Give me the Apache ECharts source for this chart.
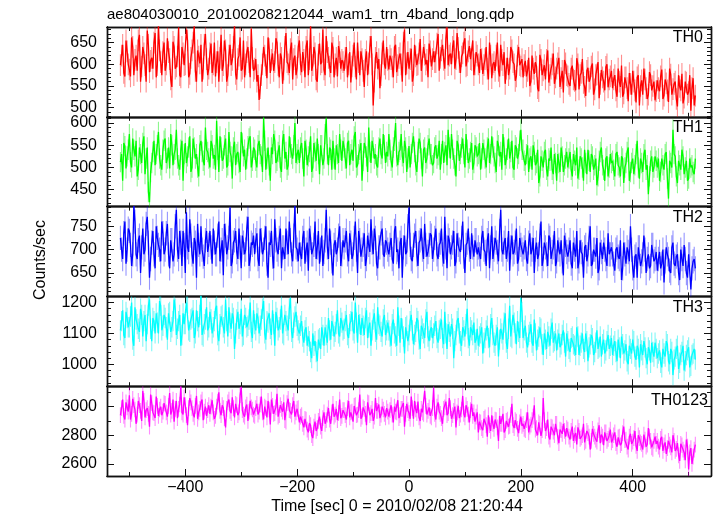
<!DOCTYPE html>
<html><head><meta charset="utf-8">
<script src="https://cdn.jsdelivr.net/npm/echarts@6/dist/echarts.min.js"></script>
<style>html,body{margin:0;padding:0;background:#fff}#c{width:717px;height:516px}</style>
</head><body><div id="c"></div>
<script>
// Light curve time grid: 2-s bins from -516 s (0 = 2010/02/08 21:20:44).
// Each band is stored as two lists: bins at -516,-512,... (A) and bins at -514,-510,... (B).
const tStart = -516, binSec = 2;

const th0A = [
598,645,572,630,588,662,575,620,655,560,640,598,678,582,615,650,570,690,605,628,
585,660,612,548,640,595,685,570,625,600,655,578,632,688,560,618,645,590,670,575,
625,580,650,605,560,668,598,632,575,645,610,690,565,620,585,655,600,640,570,615,
590,560,518,575,640,598,662,580,625,605,650,570,615,588,672,600,635,565,620,592,
655,582,610,640,575,690,598,625,560,648,605,588,665,615,580,638,600,572,628,610,
585,640,600,558,620,595,650,575,612,548,630,602,665,505,615,590,545,625,600,640,
588,612,570,645,598,625,560,680,602,590,636,575,618,600,658,585,622,610,648,595,
630,605,670,615,645,590,685,620,600,655,612,638,580,625,660,598,642,610,575,628,
600,635,578,612,590,650,568,605,620,585,645,598,555,615,590,632,600,572,640,595,
570,608,585,550,620,578,595,538,610,586,565,632,575,600,555,590,615,568,535,602,
572,550,597,562,614,542,580,557,527,592,567,602,542,577,522,587,560,594,547,572,
545,575,525,560,597,533,570,515,555,585,540,570,505,563,590,545,530,575,550,517,
563,538,588,528,556,513,576,543,560,503,548,578,523,558,536,493,568,528];
const th0B = [
620,580,655,600,572,640,610,585,668,595,625,560,645,608,590,672,598,632,575,650,
600,628,565,652,590,618,575,640,598,680,570,615,650,585,632,602,560,645,612,590,
648,600,572,630,615,585,655,560,620,598,640,578,612,662,590,570,628,605,682,585,
612,575,545,600,620,568,635,610,585,660,598,625,555,640,605,580,650,612,575,640,
600,628,570,655,612,585,640,565,622,600,680,575,628,595,650,570,615,642,590,605,
615,570,628,595,650,565,605,630,585,610,575,640,600,560,628,612,575,655,590,610,
620,595,640,582,615,600,650,575,628,612,560,645,598,625,585,640,600,570,630,612,
605,648,585,632,610,660,598,625,640,590,672,605,618,650,595,630,612,655,600,620,
580,612,598,640,565,620,600,585,650,572,610,628,590,575,640,605,562,620,598,612,
598,572,615,560,590,605,545,622,575,598,610,558,590,625,570,602,548,585,610,575,
555,590,565,540,600,575,612,548,585,560,595,530,575,605,555,570,540,600,565,585,
565,540,590,548,525,570,545,580,530,560,512,575,550,530,565,520,582,540,560,538,
545,572,520,565,540,590,530,555,520,575,540,510,560,530,575,545,505];

const th1A = [
512,470,548,525,575,500,540,560,495,530,555,485,545,422,510,560,530,580,505,540,
565,520,498,550,530,585,505,540,470,555,525,570,500,545,530,480,560,515,590,535,
500,550,528,605,490,545,520,565,505,535,475,558,530,510,580,525,495,548,570,515,
540,500,560,525,612,495,545,470,530,560,515,550,490,575,535,505,545,520,600,530,
510,555,480,540,525,570,500,535,565,485,550,520,610,505,540,560,495,530,575,515,
545,498,560,530,515,580,505,540,470,555,525,590,510,545,530,500,565,520,550,535,
575,515,545,600,505,540,525,560,490,548,530,570,505,535,555,480,545,520,565,530,
510,550,528,495,560,535,505,545,575,520,480,550,530,565,500,540,520,555,510,545,
530,495,555,520,545,510,570,525,490,550,535,575,505,540,520,560,495,545,530,585,
540,505,550,520,495,535,510,465,525,500,540,480,515,495,530,470,510,545,490,520,
500,535,480,515,545,495,520,470,510,540,490,525,505,460,515,545,495,520,480,530,
515,480,535,500,525,465,510,545,490,520,505,560,475,510,530,495,440,515,490,525,
500,470,520,495,535,430,510,585,525,465,505,540,485,515,475,500,490,520];
const th1B = [
530,555,498,540,512,565,525,480,545,510,570,520,445,490,535,505,550,520,495,560,
510,545,575,505,540,520,495,560,530,510,545,490,565,520,500,550,535,505,540,520,
560,520,495,540,570,515,550,500,580,525,545,505,535,490,555,540,520,565,500,545,
515,550,530,490,560,520,505,545,575,510,535,500,560,520,495,570,530,550,510,540,
545,520,560,505,535,490,555,515,530,550,505,575,530,545,495,520,550,510,540,560,
520,555,505,540,570,500,530,555,515,545,490,535,560,520,505,545,530,575,510,525,
540,500,560,525,535,575,510,545,520,500,555,535,490,565,520,540,510,550,530,505,
545,520,560,530,510,550,585,520,540,505,560,515,545,530,575,510,535,495,550,525,
555,520,540,500,565,530,545,510,560,525,495,545,520,565,535,500,550,520,560,540,
515,530,490,525,550,505,540,480,515,535,495,520,545,485,510,530,490,525,505,535,
520,495,530,505,475,525,500,540,485,515,530,495,520,480,535,505,470,525,500,510,
495,530,505,480,520,500,535,470,510,485,530,500,520,490,540,505,480,525,500,515,
520,490,505,530,475,515,500,530,480,515,495,525,500,470,520,505,485];

const th2A = [
725,680,760,700,740,665,795,690,720,650,745,700,770,640,715,690,750,710,675,735,
700,755,660,720,690,785,680,715,740,650,705,765,690,725,640,710,750,685,720,695,
740,670,715,690,760,700,645,730,705,790,675,720,695,745,660,715,700,770,680,710,
690,735,665,720,700,750,640,710,685,765,700,725,660,705,745,690,720,675,795,700,
715,680,740,700,655,725,690,760,705,670,730,695,785,680,715,645,720,700,750,690,
705,740,675,715,690,760,650,720,700,735,680,710,765,690,725,660,705,745,685,715,
690,725,670,750,700,715,640,730,695,790,680,710,740,665,720,700,755,685,710,730,
700,745,680,715,690,770,660,720,705,740,675,710,695,760,650,715,700,735,685,720,
705,680,740,695,720,660,750,700,715,675,785,690,725,700,655,730,695,745,680,710,
690,720,670,735,700,650,715,690,760,680,705,665,725,695,740,675,700,720,645,710,
685,720,660,700,740,675,695,640,710,690,750,670,700,725,660,695,715,680,735,690,
690,655,705,680,635,715,670,695,750,660,685,640,705,675,730,650,690,665,710,680,
655,695,670,630,705,680,650,715,665,690,635,680,710,650,690,615,675,660];
const th2B = [
700,735,670,745,710,690,760,680,730,705,690,755,715,680,740,660,725,700,760,690,
735,690,720,675,750,700,740,665,710,780,695,730,670,715,755,690,700,665,740,710,
705,745,690,730,675,720,755,690,725,665,715,740,680,705,730,690,745,665,715,730,
720,680,745,690,725,670,715,740,660,720,690,745,705,680,715,760,690,730,705,675,
690,725,670,715,745,690,710,680,740,700,665,720,705,745,675,710,690,730,665,720,
720,690,735,680,725,700,740,685,710,665,730,695,715,745,670,705,735,690,720,700,
710,680,740,695,660,725,705,690,750,710,675,730,690,715,745,680,710,695,735,680,
725,690,710,745,670,705,730,690,715,665,735,700,725,685,710,745,680,705,720,690,
690,725,700,665,735,705,680,725,695,740,700,715,680,740,705,690,715,670,725,700,
705,680,715,690,725,700,680,730,665,715,690,730,680,705,665,720,690,675,730,695,
700,670,715,685,660,720,690,705,675,725,665,700,685,650,715,680,700,665,690,705,
670,700,685,720,660,690,705,675,700,640,690,705,665,690,700,680,660,710,675,695,
680,660,700,675,690,655,705,670,685,650,700,665,680,640,690,660,680];

const th3A = [
1110,1175,1085,1150,1120,1200,1060,1145,1115,1180,1090,1160,1130,1210,1075,1140,1165,1100,1190,1125,
1150,1080,1170,1120,1210,1095,1140,1060,1165,1130,1195,1105,1150,1085,1175,1120,1225,1090,1145,1110,
1170,1100,1140,1190,1075,1155,1120,1210,1090,1135,1165,1050,1145,1115,1180,1095,1150,1125,1200,1085,
1130,1165,1100,1145,1205,1080,1135,1115,1175,1060,1150,1120,1190,1095,1140,1110,1215,1085,1155,1125,
1100,1140,1070,1120,1090,1040,1100,1075,1010,1085,1120,1060,1095,1150,1080,1125,1105,1175,1090,1135,
1115,1160,1085,1140,1110,1200,1070,1130,1150,1095,1175,1120,1060,1145,1105,1185,1125,1090,1160,1110,
1110,1060,1145,1090,1185,1070,1115,1035,1125,1095,1160,1065,1105,1140,1050,1115,1085,1170,1075,1120,
1100,1140,1070,1115,1085,1170,1050,1105,1130,1020,1095,1150,1075,1120,1090,1180,1060,1110,1135,1080,
1060,1100,1035,1085,1125,1055,1150,1070,1095,1025,1115,1080,1165,1050,1190,1085,1135,1065,1105,1215,
1085,1125,1055,1105,1070,1145,1045,1090,1115,1030,1080,1105,1060,1135,1075,1045,1100,1065,1110,1025,
1075,1040,1090,1060,1120,1030,1070,1050,1100,1010,1065,1085,1040,1110,1055,1025,1080,1045,1095,1060,
1030,1075,1010,1055,1090,1035,1065,1000,1050,1080,1025,1060,990,1045,1075,1020,1055,1005,1040,1070,
1020,1045,990,1035,1075,1010,1050,965,1025,1060,1005,1040,980,1030,1055,995,1035,1015];
const th3B = [
1140,1095,1170,1120,1155,1080,1185,1130,1105,1160,1140,1075,1190,1115,1150,1100,1135,1205,1110,1160,
1120,1165,1105,1140,1180,1115,1160,1095,1130,1200,1110,1145,1175,1100,1140,1160,1095,1130,1185,1120,
1145,1120,1180,1095,1130,1160,1100,1140,1185,1115,1150,1100,1170,1130,1090,1160,1120,1145,1105,1175,
1110,1150,1125,1180,1100,1140,1165,1095,1130,1170,1110,1145,1100,1160,1125,1180,1105,1135,1170,1110,
1125,1090,1110,1060,1075,1020,1060,1040,1080,1050,1095,1120,1070,1110,1140,1090,1130,1100,1150,1110,
1140,1095,1130,1170,1100,1135,1160,1095,1125,1150,1085,1135,1110,1165,1080,1130,1105,1145,1095,1135,
1090,1130,1100,1060,1125,1150,1090,1120,1075,1140,1110,1095,1150,1080,1125,1100,1145,1090,1110,1085,
1125,1085,1110,1145,1065,1100,1130,1090,1115,1075,1140,1100,1060,1110,1130,1085,1120,1095,1070,1115,
1090,1120,1070,1110,1085,1130,1095,1060,1120,1080,1100,1135,1070,1115,1090,1160,1100,1140,1085,1170,
1110,1070,1095,1130,1060,1100,1080,1120,1065,1100,1050,1090,1115,1070,1100,1080,1055,1095,1070,1100,
1050,1085,1065,1030,1090,1060,1100,1040,1075,1055,1095,1030,1070,1050,1090,1065,1035,1075,1050,1085,
1060,1040,1080,1020,1065,1045,1010,1060,1035,1075,1015,1050,1065,1030,1055,1000,1045,1070,1025,1050,
1035,1005,1050,1025,1065,1000,1040,1015,1050,985,1030,1060,1010,1045,990,1030,1050];

const th0123A = [
2940,3050,2910,2995,3080,2950,3010,2880,3040,2970,3110,2925,2990,2860,3025,2955,3070,2935,3000,2965,
3020,2930,3095,2970,2895,3040,2985,3140,2945,3010,2870,3060,2990,2925,3075,2960,3030,2905,3000,2975,
2950,3045,2915,3000,3100,2940,2990,2855,3030,2970,3065,2925,3010,2960,3135,2945,2995,2900,3040,2980,
2935,3020,2965,3070,2910,2990,3040,2875,3005,2955,3090,2940,2985,3030,2895,3055,2970,3010,2930,2985,
2890,2940,2855,2910,2820,2870,2780,2895,2850,2930,2830,2960,2905,2990,2880,3020,2945,2905,3050,2935,
2975,2910,3040,2960,2895,3010,2945,3085,2930,2985,2870,3025,2955,2900,3060,2970,2920,3000,2950,2990,
2930,3010,2890,2965,3045,2940,2985,2860,3020,2955,3070,2915,2980,3035,2900,2960,3110,2945,2995,2925,
3130,2910,3030,2950,2880,2995,2940,3060,2915,2970,2855,3005,2945,3075,2925,2985,2890,3020,2960,2930,
2820,2890,2835,2925,2790,2870,2940,2845,2905,2760,2880,2950,2835,2910,2865,3020,2850,2895,2815,2930,
2880,2835,2960,2860,2905,3010,2850,2890,2795,3060,2830,2910,2770,2855,2800,2880,2745,2835,2880,2790,
2840,2770,2860,2800,2735,2830,2785,2880,2760,2815,2700,2845,2790,2755,2870,2805,2730,2820,2775,2840,
2765,2820,2720,2790,2745,2860,2770,2700,2810,2755,2830,2690,2780,2740,2805,2720,2850,2760,2705,2790,
2760,2700,2790,2730,2670,2760,2715,2800,2690,2745,2620,2730,2680,2770,2560,2710,2650,2735];
const th0123B = [
2990,2935,3030,2965,2910,3055,2980,2945,3010,2900,3040,2975,2950,3085,2960,2920,3005,2980,2940,3025,
2960,3005,2945,3050,2985,2920,3015,2960,3065,2940,2990,3030,2950,3005,2915,2985,3050,2965,2935,3010,
3000,2960,2935,3035,2970,3010,2920,2985,3050,2955,2990,3020,2940,3080,2975,2930,3015,2965,2995,2945,
2990,2945,3015,2960,3000,2925,2980,3050,2950,2995,2930,3010,2965,2905,3025,2975,2945,3040,2960,2990,
2930,2880,2915,2840,2885,2800,2860,2830,2900,2860,2920,2880,2945,2910,2960,2930,2985,2955,2920,2975,
2940,2990,2925,2965,3005,2940,2975,2915,2995,2950,3030,2940,2985,2930,2970,3015,2945,2980,2925,2965,
2975,2945,3000,2960,2920,2985,3025,2950,2975,2915,2990,3040,2955,2925,2985,2950,3005,2970,2935,2990,
2950,3000,2965,2920,2985,3035,2955,2990,2940,3000,2960,2920,2980,2950,3010,2945,2975,2935,2895,2960,
2895,2850,2915,2870,2940,2830,2880,2910,2855,2935,2880,2820,2900,2860,2940,2870,2905,2845,2890,2865,
2845,2905,2820,2875,2930,2840,2800,2880,2835,2905,2850,2790,2860,2825,2880,2790,2840,2810,2830,2850,
2790,2830,2760,2815,2855,2775,2800,2750,2830,2790,2760,2810,2770,2835,2745,2790,2820,2760,2800,2750,
2800,2745,2785,2730,2815,2765,2720,2790,2740,2780,2725,2800,2750,2700,2770,2735,2790,2715,2760,2740,
2720,2775,2690,2750,2710,2735,2680,2760,2705,2660,2740,2700,2625,2720,2680,2600,2700];

// Typical 1-sigma error per bin for each band (counts/sec)
const errTH = [25, 23, 26, 33, 55];

const bandNames = ['TH0', 'TH1', 'TH2', 'TH3', 'TH0123'];
const yMin = [479, 412, 600, 929, 2515];
const yMax = [686, 614, 792, 1220, 3143];
const yMajorTicks = [[500, 550, 600, 650], [450, 500, 550, 600], [650, 700, 750], [1000, 1100, 1200], [2600, 2800, 3000]];
const yMinorStep = [10, 10, 10, 20, 100];
const xMajorTicks = [-400, -200, 0, 200, 400];
const xMinorTicks = [-500, -300, -100, 100, 300, 500];
const titleText = 'ae804030010_20100208212044_wam1_trn_4band_long.qdp';
const xTitle = 'Time [sec] 0 = 2010/02/08 21:20:44';
const yTitle = 'Counts/sec';

function mergeBins(a, b) {
  const out = [];
  for (let k = 0; k < a.length; k++) { out.push(a[k]); if (k < b.length) out.push(b[k]); }
  return out;
}
const bands = [mergeBins(th0A, th0B), mergeBins(th1A, th1B), mergeBins(th2A, th2B), mergeBins(th3A, th3B), mergeBins(th0123A, th0123B)];
const times = bands[0].map((_, i) => tStart + i * binSec);
const colors = ['#ff0000', '#00ff00', '#0000ff', '#00ffff', '#ff00ff'];
const errColors = ['rgba(255,0,0,0.45)', 'rgba(0,235,0,0.45)', 'rgba(0,0,255,0.42)', 'rgba(0,240,240,0.5)', 'rgba(255,0,255,0.45)'];
const FONT = '"Liberation Sans", Arial, sans-serif';

const chart = echarts.init(document.getElementById('c'), null, {renderer: 'canvas'});
const gridTop = 27, panelH = 89.8, gridLeft = 107, gridW = 604;
const grids = [], xAxes = [], yAxes = [], series = [], graphics = [];
const axisLineStyle = {color: '#111', width: 1.4};

for (let i = 0; i < 5; i++) {
  grids.push({left: gridLeft, top: gridTop + i * panelH, width: gridW, height: panelH});
  const xi = xAxes.length;
  const mkX = (pos, vals, len, withLabels) => ({
    type: 'value', gridIndex: i, position: pos, min: -540, max: 540,
    axisLine: {show: true, onZero: false, lineStyle: axisLineStyle},
    axisTick: {show: true, inside: true, length: len, customValues: vals, lineStyle: {color: '#111', width: 1}},
    axisLabel: withLabels ? {show: true, customValues: xMajorTicks, fontSize: 16, fontFamily: FONT, color: '#000', margin: 4,
      formatter: v => (v < 0 ? '\u2212' + Math.abs(v) : String(v))} : {show: false},
    splitLine: {show: false}
  });
  xAxes.push(mkX('bottom', xMajorTicks, 7, i === 4), mkX('bottom', xMinorTicks, 4, false),
             mkX('top', xMajorTicks, 7, false), mkX('top', xMinorTicks, 4, false));

  const major = yMajorTicks[i];
  const step = yMinorStep[i];
  const minor = [];
  for (let v = Math.ceil(yMin[i] / step) * step; v <= yMax[i]; v += step) if (!major.includes(v)) minor.push(v);
  const yi = yAxes.length;
  const mkY = (pos, vals, len, withLabels) => ({
    type: 'value', gridIndex: i, position: pos, min: yMin[i], max: yMax[i],
    axisLine: {show: true, onZero: false, lineStyle: axisLineStyle},
    axisTick: {show: true, inside: true, length: len, customValues: vals, lineStyle: {color: '#111', width: 1}},
    axisLabel: withLabels ? {show: true, customValues: major, fontSize: 16, fontFamily: FONT, color: '#000', margin: 10,
      formatter: v => String(v)} : {show: false},
    splitLine: {show: false}
  });
  yAxes.push(mkY('left', major, 7, true), mkY('left', minor, 4, false),
             mkY('right', major, 7, false), mkY('right', minor, 4, false));

  const vals = bands[i];
  const err = errTH[i];
  series.push({
    type: 'custom', xAxisIndex: xi, yAxisIndex: yi, clip: true, silent: true,
    data: vals.map((v, k) => [times[k], v, err]),
    encode: {x: 0, y: 1},
    renderItem: (function (ec) {
      return function (params, api) {
        const t = api.value(0), v = api.value(1), e = api.value(2);
        const p1 = api.coord([t, v - e]), p2 = api.coord([t, v + e]);
        return {type: 'line', shape: {x1: p1[0], y1: p1[1], x2: p2[0], y2: p2[1]}, style: {stroke: ec, lineWidth: 1.1}};
      };
    })(errColors[i])
  });
  series.push({
    type: 'line', xAxisIndex: xi, yAxisIndex: yi, clip: true, silent: true,
    showSymbol: false, symbol: 'none', sampling: null,
    data: vals.map((v, k) => [times[k], v]),
    lineStyle: {color: colors[i], width: 1.3}
  });

  graphics.push({
    type: 'text', x: i === 4 ? 708 : 703, y: gridTop + i * panelH + (i === 4 ? 14 : 11),
    style: {text: bandNames[i], fontSize: 16, fontFamily: FONT, fill: '#000', align: 'right', verticalAlign: 'middle'}
  });
}

graphics.push({type: 'text', x: 107, y: 15, style: {text: titleText, fontSize: 15, fontFamily: FONT, fill: '#000', align: 'left', verticalAlign: 'middle'}});
graphics.push({type: 'text', x: 397, y: 507, style: {text: xTitle, fontSize: 16, fontFamily: FONT, fill: '#000', align: 'center', verticalAlign: 'middle'}});
graphics.push({type: 'text', x: 41, y: 260, rotation: Math.PI / 2, style: {text: yTitle, fontSize: 16, fontFamily: FONT, fill: '#000', align: 'center', verticalAlign: 'middle'}});

chart.setOption({
  animation: false,
  backgroundColor: '#fff',
  grid: grids, xAxis: xAxes, yAxis: yAxes, series: series, graphic: graphics
});
</script></body></html>
